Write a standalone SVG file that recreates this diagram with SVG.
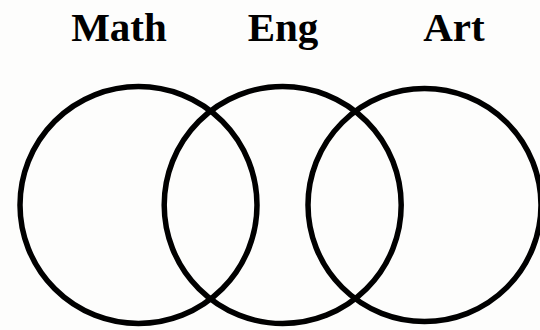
<svg xmlns="http://www.w3.org/2000/svg" width="540" height="330" viewBox="0 0 540 330">
<style>
.c{fill:none;stroke:#000;stroke-width:5.5}
.t{font-family:"Liberation Serif","Times New Roman",serif;font-weight:bold;font-size:41px;fill:#000;text-anchor:middle}
</style>
<rect width="540" height="330" fill="#fdfdfc"/>
<g id="math"><circle class="c" cx="138.5" cy="205" r="118.5"/><text class="t" x="119" y="41">Math</text></g>
<g id="eng"><circle class="c" cx="282.7" cy="205" r="118.5"/><text class="t" x="283" y="41">Eng</text></g>
<g id="art"><circle class="c" cx="424.5" cy="205" r="116.5"/><text class="t" x="454" y="41">Art</text></g>
<g id="connectors"></g>
</svg>
